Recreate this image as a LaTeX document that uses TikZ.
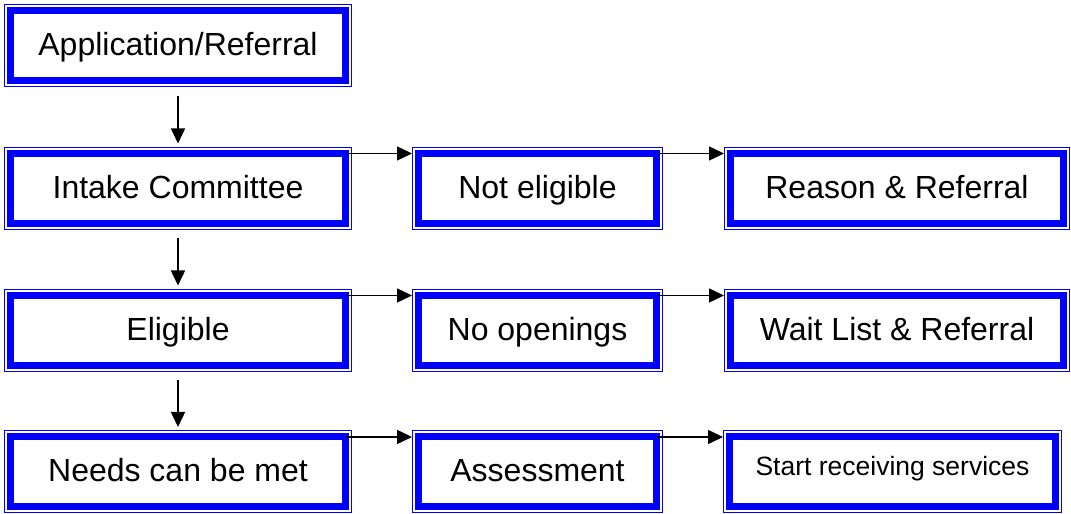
\documentclass[tikz,border=0pt]{standalone}
\usepackage{fontspec}
\setmainfont{Liberation Sans}
\usetikzlibrary{arrows.meta}

\tikzset{
  stage/.style={draw=blue, line width=7pt, fill=white, outer sep=0pt, inner sep=0pt,
    minimum height=70pt, text height=23pt, text depth=3pt, font=\fontsize{32}{38}\selectfont},
  frame/.style={draw=blue, line width=1pt},
  flow/.style={-{Triangle[length=15pt, width=14pt]}, line width=1.5pt}
}

\begin{document}
\begin{tikzpicture}[x=1pt, y=1pt]
  \useasboundingbox (0,0) rectangle (1071,514);
  % first column
  \node[stage, minimum width=335pt] (app)    at (178, 468) {Application/Referral};
  \node[stage, minimum width=335pt] (intake) at (178, 325.5) {Intake Committee};
  \node[stage, minimum width=335pt] (elig)   at (178, 183.5) {Eligible};
  \node[stage, minimum width=335pt] (needs)  at (178, 42) {Needs can be met};
  % second column
  \node[stage, minimum width=238pt] (noelig) at (537.5, 325.5) {Not eligible};
  \node[stage, minimum width=238pt] (noopen) at (537.5, 183.5) {No openings};
  \node[stage, minimum width=238pt] (assess) at (537.5, 42) {Assessment};
  % third column
  \node[stage, minimum width=333pt] (reason) at (897, 325.5) {Reason \& Referral};
  \node[stage, minimum width=333pt] (wait)   at (897, 183.5) {Wait List \& Referral};
  \node[stage, minimum width=326pt, text height=19pt, text depth=11pt,
        font=\fontsize{26.5}{32}\selectfont] (start) at (892.5, 42) {Start receiving services};

  % thin outer frames
  \foreach \n in {app, intake, elig, needs, noelig, noopen, assess, reason, wait, start}
    \draw[frame] ([shift={(-6pt,6pt)}]\n.north west) rectangle ([shift={(6pt,-6pt)}]\n.south east);

  % down the first column
  \draw[flow] ([yshift=-15pt]app.south) -- ([yshift=10pt]intake.north);
  \draw[flow] ([yshift=-15pt]intake.south) -- ([yshift=10pt]elig.north);
  \draw[flow] ([yshift=-15pt]elig.south) -- ([yshift=10pt]needs.north);

  % across the rows
  \draw[flow] (intake.north east) -- ([xshift=-6.5pt]noelig.north west);
  \draw[flow] (noelig.north east) -- ([xshift=-6.5pt]reason.north west);
  \draw[flow] (elig.north east) -- ([xshift=-6.5pt]noopen.north west);
  \draw[flow] (noopen.north east) -- ([xshift=-6.5pt]wait.north west);
  \draw[flow] (needs.north east) -- ([xshift=-6.5pt]assess.north west);
  \draw[flow] (assess.north east) -- ([xshift=-6.5pt]start.north west);
\end{tikzpicture}
\end{document}
